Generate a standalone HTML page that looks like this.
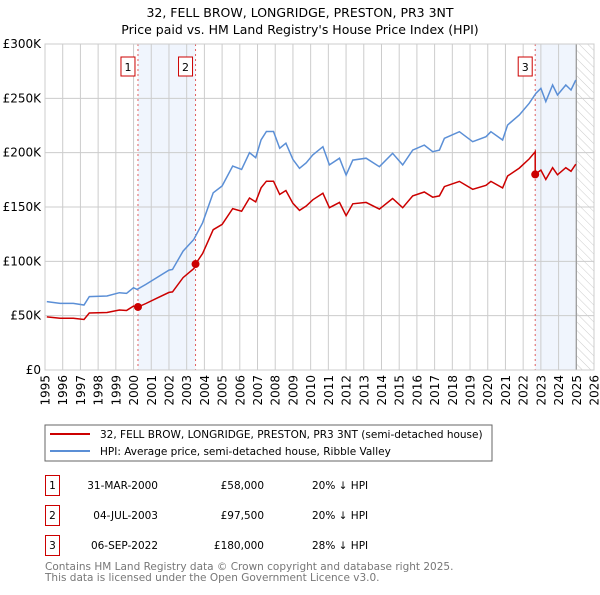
<!DOCTYPE html>
<html><head><meta charset="utf-8"><style>
body{margin:0;background:#fff;}
svg text{font-family:"DejaVu Sans","Liberation Sans",sans-serif;}
</style></head><body>
<svg width="600" height="590" viewBox="0 0 600 590" id="chart">
<defs><pattern id="hatch" width="6" height="6" patternUnits="userSpaceOnUse" patternTransform="rotate(-45)"><line x1="0" y1="0" x2="0" y2="6" stroke="#ccc" stroke-width="1"/></pattern></defs>
<text x="300" y="17" text-anchor="middle" font-size="12.5" fill="#000">32, FELL BROW, LONGRIDGE, PRESTON, PR3 3NT</text>
<text x="300" y="34" text-anchor="middle" font-size="12.5" fill="#000">Price paid vs. HM Land Registry's House Price Index (HPI)</text>
<g id="plot"></g>
<rect x="45" y="425" width="447" height="36" fill="#fff" stroke="#666"/>
<line x1="50" y1="434" x2="90" y2="434" stroke="#cc0000" stroke-width="2"/>
<text x="100" y="438" font-size="10.5">32, FELL BROW, LONGRIDGE, PRESTON, PR3 3NT (semi-detached house)</text>
<line x1="50" y1="451" x2="90" y2="451" stroke="#5b8fd6" stroke-width="2"/>
<text x="100" y="455" font-size="10.5">HPI: Average price, semi-detached house, Ribble Valley</text>
<g id="table" font-size="10.5"></g>
<text x="45" y="570" font-size="10.5" fill="#777">Contains HM Land Registry data © Crown copyright and database right 2025.</text>
<text x="45" y="581" font-size="10.5" fill="#777">This data is licensed under the Open Government Licence v3.0.</text>
</svg>
<script>
const hpiYears=[1995.1,1995.85,1996.6,1997.2,1997.5,1998.5,1999.2,1999.6,2000.0,2000.2,2000.7,2001.3,2002.0,2002.2,2002.8,2003.4,2003.9,2004.5,2005.0,2005.6,2006.1,2006.55,2006.9,2007.2,2007.5,2007.9,2008.25,2008.6,2009.0,2009.37,2009.75,2010.12,2010.69,2011.06,2011.63,2012.0,2012.38,2013.13,2013.88,2014.63,2015.2,2015.76,2016.42,2016.89,2017.27,2017.55,2018.4,2019.15,2019.9,2020.18,2020.84,2021.12,2021.78,2022.34,2022.72,2023.0,2023.28,2023.66,2023.94,2024.41,2024.7,2024.97];
const hpiValues=[62.9,61.3,61.3,59.8,67.5,68.1,71.1,70.5,75.7,74.2,78.8,84.9,91.9,92.5,109.4,120.1,135.5,163.1,169.3,187.7,184.6,200,195.4,211.8,219.5,219.5,204.1,208.7,193.8,185.6,190.7,197.9,205.5,188.7,194.9,179.4,193.2,194.9,187.1,199.4,188.7,202.4,207.0,200.9,202.4,213.2,219.3,210.1,214.7,219.3,211.7,225.5,234.7,245.4,254.6,259.2,247.0,262.3,253.1,262.3,257.7,266.9];
const saleYears=[2000.25,2003.5,2022.68];
const salePrices=[58,97.5,180];
const saleLabels=["1","2","3"];
const saleDates=["31-MAR-2000","04-JUL-2003","06-SEP-2022"];
const salePriceText=["£58,000","£97,500","£180,000"];
const saleHpiText=["20% ↓ HPI","20% ↓ HPI","28% ↓ HPI"];
const yTicks=[0,50,100,150,200,250,300];
const yTickLabels=["£0","£50K","£100K","£150K","£200K","£250K","£300K"];
const xTicks=[];for(let y=1995;y<=2026;y++)xTicks.push(y);
const dataEnd=2025.0;

const X0=45,X1=594,Y0=370,Y1=44,YMIN=1995,YMAX=2026,VMAX=300;
const xs=t=>X0+(t-YMIN)/(YMAX-YMIN)*(X1-X0);
const ys=v=>Y0-v/VMAX*(Y0-Y1);
const NS="http://www.w3.org/2000/svg";
const plot=document.getElementById('plot');
function mk(tag,attrs,parent){const e=document.createElementNS(NS,tag);for(const k in attrs)e.setAttribute(k,attrs[k]);(parent||plot).appendChild(e);return e;}
function hpiAt(t){if(t<=hpiYears[0])return hpiValues[0];for(let i=1;i<hpiYears.length;i++){if(t<=hpiYears[i]){const f=(t-hpiYears[i-1])/(hpiYears[i]-hpiYears[i-1]);return hpiValues[i-1]+f*(hpiValues[i]-hpiValues[i-1]);}}return hpiValues[hpiValues.length-1];}

let r=mk('rect',{x:xs(saleYears[0]),y:Y1,width:xs(saleYears[1])-xs(saleYears[0]),height:Y0-Y1,fill:'#f0f5fd'});


r=mk('rect',{x:xs(saleYears[2]),y:Y1,width:xs(dataEnd)-xs(saleYears[2]),height:Y0-Y1,fill:'#f0f5fd'});


r=mk('rect',{x:xs(dataEnd),y:Y1,width:X1-xs(dataEnd),height:Y0-Y1,fill:'url(#hatch)'});



xTicks.forEach((t,i)=>{const l=mk('line',{x1:xs(t),x2:xs(t),y1:Y1,y2:Y0,stroke:'#ccc','stroke-width':1});


const tx=mk('text',{x:0,y:0,'text-anchor':'end','font-size':12,fill:'#000',transform:'translate('+(xs(t)+4.5)+','+(Y0+5)+') rotate(-90)'});tx.textContent=t;

});
yTicks.forEach((v,i)=>{const l=mk('line',{x1:X0,x2:X1,y1:ys(v),y2:ys(v),stroke:'#ccc','stroke-width':1});


const tx=mk('text',{x:X0-4,y:ys(v)+4,'text-anchor':'end','font-size':12,fill:'#000'});tx.textContent=yTickLabels[i];

});
let dl=mk('line',{x1:xs(dataEnd),x2:xs(dataEnd),y1:Y1,y2:Y0,stroke:'#999','stroke-width':1.2});



saleYears.forEach((t,i)=>{const l=mk('line',{x1:xs(t),x2:xs(t),y1:Y1,y2:Y0,stroke:'#e06060','stroke-width':1,'stroke-dasharray':'2,3'});


const b=mk('rect',{x:xs(t)-10-7,y:57,width:14,height:19,fill:'#fff',stroke:'#cc0000','stroke-width':1});


const tx=mk('text',{x:xs(t)-10,y:71,'text-anchor':'middle','font-size':11});tx.textContent=saleLabels[i];

});

let d='';hpiYears.forEach((t,i)=>{d+=(i?'L':'M')+xs(t).toFixed(1)+','+ys(hpiValues[i]).toFixed(1);});
let p=mk('path',{d:d,fill:'none',stroke:'#5b8fd6','stroke-width':1.5});


function factorAt(t){let k=0;for(let i=0;i<saleYears.length;i++)if(t>=saleYears[i])k=i;return salePrices[k]/hpiAt(saleYears[k]);}
const pts=[];hpiYears.forEach((t,i)=>pts.push([t,hpiValues[i]*factorAt(t)]));
saleYears.forEach((t,i)=>{pts.push([t,salePrices[i]]);if(i>0)pts.push([t-0.001,hpiAt(t)*factorAt(t-0.01)]);});
pts.sort((a,b)=>a[0]-b[0]);
d='';pts.forEach((q,i)=>{d+=(i?'L':'M')+xs(q[0]).toFixed(1)+','+ys(q[1]).toFixed(1);});
p=mk('path',{d:d,fill:'none',stroke:'#cc0000','stroke-width':1.5});


saleYears.forEach((t,i)=>{const c=mk('circle',{cx:xs(t),cy:ys(salePrices[i]),r:4,fill:'#cc0000'});

});
mk('rect',{x:X0,y:Y1,width:X1-X0,height:Y0-Y1,fill:'none',stroke:'#ccc'});

const tb=document.getElementById('table');
saleYears.forEach((t,i)=>{const y0=475+i*30;
const b=mk('rect',{x:45.5,y:y0+0.5,width:14,height:20,fill:'#fff',stroke:'#cc0000'},tb);


let tx=mk('text',{x:52.5,y:y0+14,'text-anchor':'middle'},tb);tx.textContent=saleLabels[i];


tx=mk('text',{x:158,y:y0+14,'text-anchor':'end'},tb);tx.textContent=saleDates[i];


tx=mk('text',{x:264,y:y0+14,'text-anchor':'end'},tb);tx.textContent=salePriceText[i];


tx=mk('text',{x:312,y:y0+14},tb);tx.textContent=saleHpiText[i];

});
</script>
</body></html>
